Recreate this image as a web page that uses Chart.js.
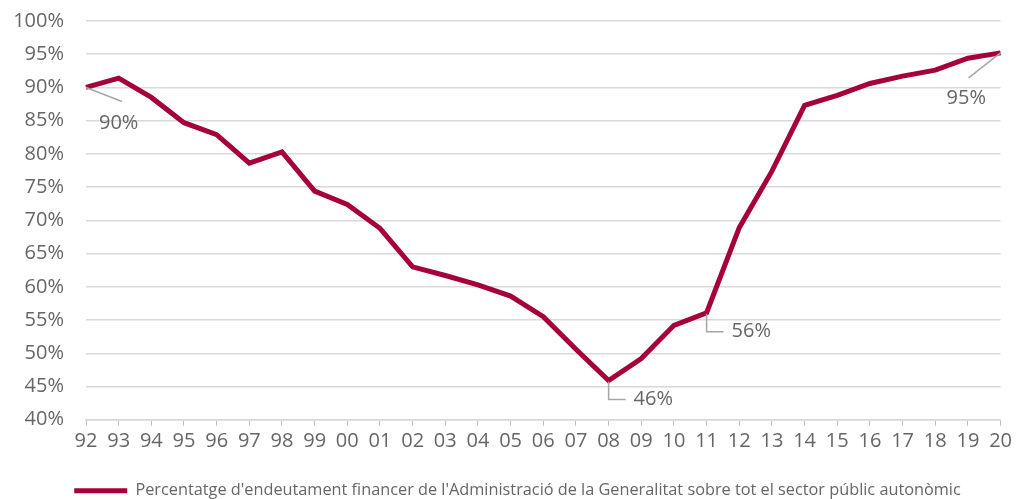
<!DOCTYPE html>
<html>
<head>
<meta charset="utf-8">
<script src="https://cdn.jsdelivr.net/npm/chart.js@4/dist/chart.umd.min.js"></script>
<style>
  html, body { margin: 0; padding: 0; background: #fff; }
  #wrap { width: 1016px; height: 499px; position: relative; }
</style>
</head>
<body>
<div id="wrap"><canvas id="chart"></canvas></div>
<script>
// anys (etiquetes de l'eix X)
const years = ["92","93","94","95","96","97","98","99","00","01","02","03","04","05","06","07","08","09","10","11","12","13","14","15","16","17","18","19","20"];
// percentatge d'endeutament (%)
const debtShare = [90.0, 91.4, 88.5, 84.7, 82.9, 78.6, 80.3, 74.4, 72.4, 68.8, 63.0, 61.7, 60.3, 58.6, 55.5, 50.6, 45.9, 49.2, 54.2, 56.1, 68.9, 77.4, 87.3, 88.8, 90.6, 91.7, 92.6, 94.4, 95.2];
// punts etiquetats
const labelled = [
  { idx: 0,  text: "90%", kind: "diag-down" },
  { idx: 16, text: "46%", kind: "elbow" },
  { idx: 19, text: "56%", kind: "elbow" },
  { idx: 28, text: "95%", kind: "diag-left" }
];

const lineColor = "#A5003B";
const textGrey = "#666666";
const fontFam = "'Open Sans', 'Noto Sans', sans-serif";

// etiquetes amb línia guia
const leaderLabels = {
  id: "leaderLabels",
  afterLayout(chart) {
    // la llegenda de l'original no està centrada del tot
    chart.legend.left += 26;
  },
  afterDatasetsDraw(chart) {
    const ctx = chart.ctx;
    const meta = chart.getDatasetMeta(0);
    ctx.save();
    ctx.strokeStyle = "#A6A6A6";
    ctx.lineWidth = 1.5;
    ctx.fillStyle = textGrey;
    ctx.font = "20px " + fontFam;
    ctx.textBaseline = "middle";
    labelled.forEach(l => {
      const pt = meta.data[l.idx];
      const x = pt.x, y = pt.y;
      ctx.beginPath();
      if (l.kind === "diag-down") {
        ctx.moveTo(x, y);
        ctx.lineTo(x + 36, y + 14);
        ctx.stroke();
        ctx.textAlign = "left";
        ctx.fillText(l.text, x + 13, y + 36);
      } else if (l.kind === "diag-left") {
        ctx.moveTo(x, y);
        ctx.lineTo(x - 32, y + 25);
        ctx.stroke();
        ctx.textAlign = "left";
        ctx.fillText(l.text, x - 54, y + 45);
      } else {
        ctx.moveTo(x, y + 1);
        ctx.lineTo(x, y + 19);
        ctx.lineTo(x + 17, y + 19);
        ctx.stroke();
        ctx.textAlign = "left";
        ctx.fillText(l.text, x + 25, y + 19);
      }
    });
    ctx.restore();
  }
};

new Chart(document.getElementById("chart"), {
  type: "line",
  data: {
    labels: years,
    datasets: [{
      label: "Percentatge d'endeutament financer de l'Administració de la Generalitat sobre tot el sector públic autonòmic",
      data: debtShare,
      borderColor: lineColor,
      backgroundColor: lineColor,
      borderWidth: 5,
      pointRadius: 0,
      tension: 0,
      fill: false
    }]
  },
  options: {
    responsive: true,
    maintainAspectRatio: false,
    animation: false,
    layout: { padding: { top: 21, right: 11, left: 4, bottom: -10 } },
    plugins: {
      tooltip: { enabled: false },
      legend: {
        position: "bottom",
        labels: {
          color: textGrey,
          font: { family: fontFam, size: 16.3 },
          boxWidth: 53,
          boxHeight: 5,
          padding: 25,
          generateLabels(chart) {
            const items = Chart.defaults.plugins.legend.labels.generateLabels(chart);
            items.forEach(it => { it.lineWidth = 0; it.fillStyle = lineColor; });
            return items;
          }
        }
      }
    },
    scales: {
      x: {
        offset: false,
        grid: {
          display: true,
          drawOnChartArea: false,
          drawTicks: true,
          tickLength: 6,
          color: "#BFBFBF"
        },
        border: { display: true, color: "#D9D9D9", width: 1.5 },
        ticks: {
          color: textGrey,
          font: { family: fontFam, size: 20 },
          maxRotation: 0,
          autoSkip: false,
          padding: 4
        }
      },
      y: {
        min: 40,
        max: 100,
        afterFit(scale) {
          scale.width = 82;
          // el padding dels ticks no ha d'empènyer l'àrea cap avall
          scale.paddingTop = 0;
          scale.paddingBottom = 0;
        },
        grid: { color: "#D9D9D9", lineWidth: 1.5, drawTicks: false },
        border: { display: false },
        ticks: {
          stepSize: 5,
          color: textGrey,
          font: { family: fontFam, size: 20 },
          padding: 22,
          callback: v => v + "%"
        }
      }
    }
  },
  plugins: [leaderLabels]
});
</script>
</body>
</html>
